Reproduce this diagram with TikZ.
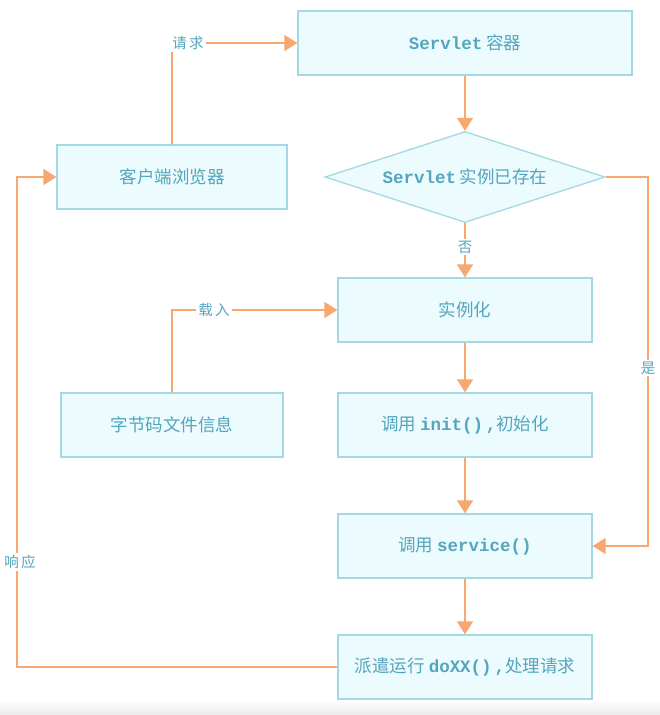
\documentclass[tikz,border=0pt]{standalone}
\usepackage{fontspec}
\usetikzlibrary{arrows.meta,shapes.geometric}
\setmainfont{Noto Sans CJK SC}
\newfontfamily\codefont{Liberation Mono}
\definecolor{boxfill}{RGB}{236,251,253}
\definecolor{boxline}{RGB}{163,216,228}
\definecolor{txt}{RGB}{84,165,190}
\definecolor{flow}{RGB}{247,168,112}
\newcommand{\cd}[1]{{\codefont\bfseries #1}}
\begin{document}
\begin{tikzpicture}[x=1pt,y=-1pt,
  box/.style={draw=boxline,line width=1.3pt,fill=boxfill,text=txt,
    minimum height=64pt,inner sep=0pt,font=\fontsize{17.5}{20}\selectfont},
  decide/.style={diamond,draw=boxline,line width=1.3pt,fill=boxfill,text=txt,
    minimum width=280pt,minimum height=91pt,inner sep=0pt,aspect=3,
    font=\fontsize{17.5}{20}\selectfont},
  flowline/.style={draw=flow,line width=1.5pt},
  flowarrow/.style={flowline,-{Triangle[length=13pt,width=16pt]}},
  tag/.style={fill=white,text=txt,inner sep=2pt,font=\fontsize{14.5}{16}\selectfont}]
  % canvas
  \path[fill=white] (0,0) rectangle (660,715);
  \shade[top color=white,bottom color=black!8] (0,700) rectangle (660,715);
  \useasboundingbox (0,0) rectangle (660,715);

  % boxes
  \node[box,minimum width=334pt] (container) at (465,43) {\cd{Servlet} 容器};
  \node[decide] (exists) at (465,177) {\cd{Servlet} 实例已存在};
  \node[box,minimum width=230pt] (browser) at (172,177) {客户端浏览器};
  \node[box,minimum width=254pt] (inst) at (465,310) {实例化};
  \node[box,minimum width=222pt] (bytecode) at (172,425) {字节码文件信息};
  \node[box,minimum width=254pt] (init) at (465,425) {调用 \cd{init()\,,}初始化};
  \node[box,minimum width=254pt] (service) at (465,546) {调用 \cd{service()}};
  \node[box,minimum width=254pt] (dispatch) at (465,667) {派遣运行 \cd{doXX()\,,}处理请求};

  % corner points of the routed connectors
  \coordinate (reqcorner) at (browser.north |- container.west);
  \coordinate (loadcorner) at (bytecode.north |- inst.west);
  \coordinate (yesA) at (648,177);
  \coordinate (yesB) at (648,546);
  \coordinate (respA) at (17,667);
  \coordinate (respB) at (17,177);

  % request / load
  \draw[flowarrow] (browser.north) -- (reqcorner) -- (container.west);
  \node[tag] (reqlbl) at (188,43) {请\,求};
  \draw[flowarrow] (bytecode.north) -- (loadcorner) -- (inst.west);
  \node[tag] (loadlbl) at (214,310) {载\,入};

  % main column
  \draw[flowarrow] (container.south) -- (exists.north);
  \draw[flowarrow] (exists.south) -- (inst.north);
  \node[tag] (nolbl) at (465,247) {否};
  \draw[flowarrow] (inst.south) -- (init.north);
  \draw[flowarrow] (init.south) -- (service.north);
  \draw[flowarrow] (service.south) -- (dispatch.north);

  % instance already exists
  \draw[flowarrow] (exists.east) -- (yesA) -- (yesB) -- (service.east);
  \node[tag] (yeslbl) at (648,368) {是};

  % response back to the browser
  \draw[flowarrow] (dispatch.west) -- (respA) -- (respB) -- (browser.west);
  \node[tag] (resplbl) at (20,562) {响\,应};
\end{tikzpicture}
\end{document}
